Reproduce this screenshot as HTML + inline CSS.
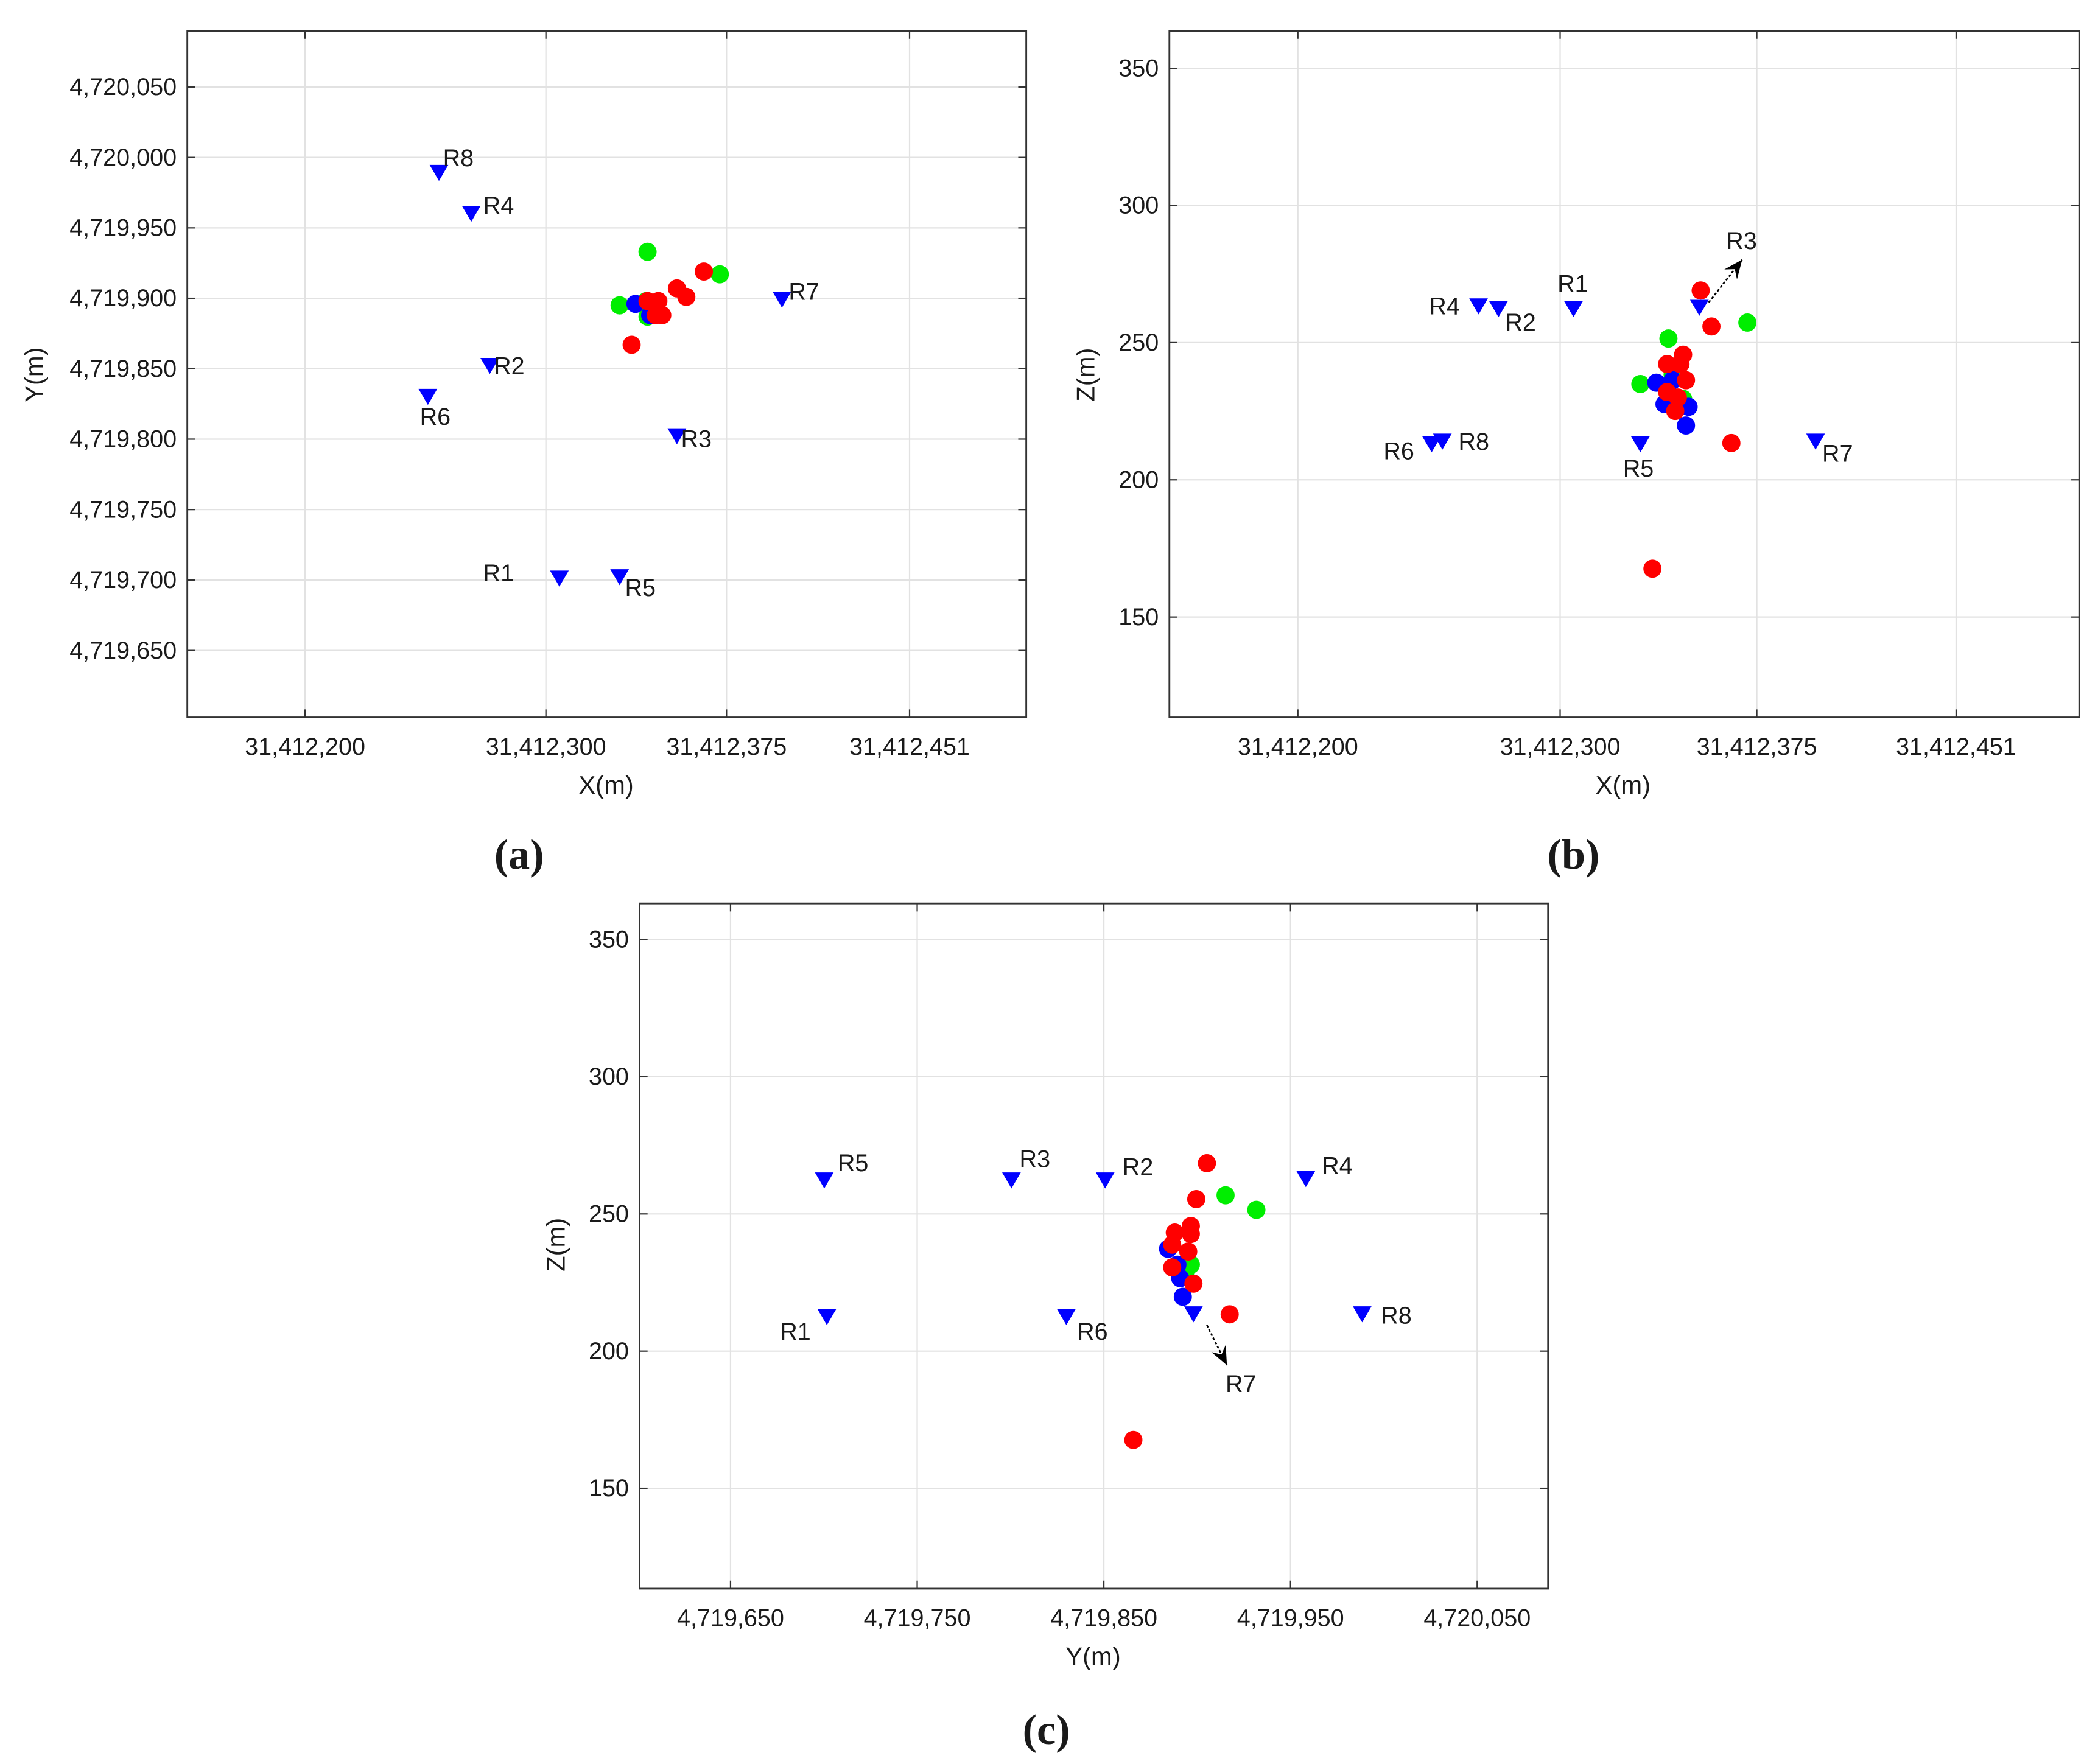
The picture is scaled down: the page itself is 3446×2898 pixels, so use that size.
<!DOCTYPE html>
<html><head><meta charset="utf-8"><style>
html,body{margin:0;padding:0;background:#fff;}
svg{display:block;}
text{font-family:"Liberation Sans",sans-serif;fill:#1a1a1a;}
text.serif{font-family:"Liberation Serif",serif;}
</style></head><body>
<svg id="fig" xmlns="http://www.w3.org/2000/svg" width="3446" height="2898" viewBox="0 0 1568 1318" preserveAspectRatio="none"></svg>
<script>
// ---------- Panel (a): X vs Y (offsets: X+31,412,000 ; Y+4,719,000) ----------
const aXTicks=[200,300,375,451];
const aYTicks=[650,700,750,800,850,900,950,1000,1050];
const aRecLabels=['R8','R4','R7','R2','R6','R3','R1','R5'];
const aRecX=[255.6,269,398,276.7,251,354.4,305.6,330.6];
const aRecY=[989,960,899,852,830,802,701,702];
const aRedX=[365.6,354.4,358.3,335.6,342.2,346.7,345.6,348.3];
const aRedY=[919,907,901,867,898,898,888,888];
const aGreenX=[342.2,330.6,372.2,341.7,345.6,342.2];
const aGreenY=[933,895,917,898,891,887];
const aBlueX=[337.2,343.3];
const aBlueY=[896,888];
// ---------- Panel (b): X vs Z ----------
const bXTicks=[200,300,375,451];
const bZTicks=[150,200,250,300,350];
const bRecLabels=['R4','R2','R1','R3','R6','R8','R5','R7'];
const bRecX=[268.9,276.5,305.1,353.1,251,255.1,330.6,397.4];
const bRecZ=[263.2,262.2,262.2,262.7,212.9,213.9,212.9,213.9];
const bRedX=[353.6,357.7,335.2,365.3,346.9,340.8,345.9,348,344.9,343.9,340.8];
const bRedZ=[269,255.9,167.6,213.4,245.6,242.2,242.2,236.3,230,225.1,232];
const bGreenX=[341.3,330.6,371.4,341.8,346.9,342.9];
const bGreenZ=[251.5,234.9,257.3,228.5,229.5,238.3];
const bBlueX=[336.7,342.9,339.8,349,348,343.9,340.8];
const bBlueZ=[235.4,236.3,227.6,226.6,219.8,229.5,233.4];
// ---------- Panel (c): Y vs Z ----------
const cYTicks=[650,750,850,950,1050];
const cZTicks=[150,200,250,300,350];
const cRecLabels=['R5','R3','R2','R4','R1','R6','R7','R8'];
const cRecY=[700.2,800.5,850.7,958.2,701.6,829.9,898,988.4];
const cRecZ=[262.2,262.2,262.2,262.7,212.4,212.4,213.4,213.4];
const cRedY=[905.2,899.5,896.6,896.6,888,886.6,886.6,895.2,898,917.4,865.8];
const cRedZ=[268.5,255.4,245.6,242.7,243.2,238.8,230.5,236.3,224.6,213.4,167.6];
const cGreenY=[915.2,931.7,895.2,893.7,896.6];
const cGreenZ=[256.8,251.5,232.9,229,231.5];
const cBlueY=[884.4,890.9,892.3,889.4];
const cBlueZ=[237.3,226.6,219.8,231.5];

const NS='http://www.w3.org/2000/svg';
const svg=document.getElementById('fig');
function mk(tag,attrs,parent,txt){const e=document.createElementNS(NS,tag);for(const k in attrs)e.setAttribute(k,attrs[k]);if(txt!==undefined)e.textContent=txt;(parent||svg).appendChild(e);return e;}
function fmt(off,v){return (off+v).toLocaleString('en-US');}

function panel(cfg){
  const g=mk('g',{});
  
  
  const sx=v=>cfg.hx0+(v-cfg.hv0)*cfg.hk;
  const sy=v=>cfg.vy0-(v-cfg.vv0)*cfg.vk;
  const L=cfg.box[0],T=cfg.box[1],R=cfg.box[2],B=cfg.box[3];
  mk('rect',{x:L,y:T,width:R-L,height:B-T,fill:'#fff'},g);
  cfg.hTicks.forEach(t=>{const x=sx(t);
    const gl=mk('line',{x1:x,x2:x,y1:T,y2:B,stroke:'#e2e2e2','stroke-width':1},g);
    
    
    mk('line',{x1:x,x2:x,y1:T,y2:T+6,stroke:'#333','stroke-width':1},g);
    mk('line',{x1:x,x2:x,y1:B,y2:B-6,stroke:'#333','stroke-width':1},g);
    const tl=mk('text',{x:x,y:B+28,'text-anchor':'middle','font-size':18},g,fmt(cfg.hOff,t));
    
    
  });
  cfg.vTicks.forEach(t=>{const y=sy(t);
    const gl=mk('line',{x1:L,x2:R,y1:y,y2:y,stroke:'#e2e2e2','stroke-width':1},g);
    
    
    mk('line',{x1:L,x2:L+6,y1:y,y2:y,stroke:'#333','stroke-width':1},g);
    mk('line',{x1:R,x2:R-6,y1:y,y2:y,stroke:'#333','stroke-width':1},g);
    const tl=mk('text',{x:L-8,y:y+6,'text-anchor':'end','font-size':18},g,fmt(cfg.vOff,t));
    
    
  });
  const fr=mk('rect',{x:L,y:T,width:R-L,height:B-T,fill:'none',stroke:'#333','stroke-width':1.3},g);
  
  
  const xl=mk('text',{x:cfg.xLab[0],y:cfg.xLab[1],'text-anchor':'middle','font-size':19},g,cfg.xLab[2]);
  
  
  const yl=mk('text',{x:0,y:0,'text-anchor':'middle','font-size':19,transform:`translate(${cfg.yLab[0]},${cfg.yLab[1]}) rotate(-90)`},g,cfg.yLab[2]);
  
  
  const dots=(hs,vs,col,nm)=>hs.forEach((h,i)=>{const c=mk('circle',{cx:sx(h),cy:sy(vs[i]),r:6.8,fill:col},g);
    
    });
  dots(cfg.green[0],cfg.green[1],'#00ee00','green-point');
  dots(cfg.blue[0],cfg.blue[1],'#0000ff','blue-point');
  dots(cfg.red[0],cfg.red[1],'#ff0000','red-point');
  cfg.recH.forEach((h,i)=>{const x=sx(h),y=sy(cfg.recV[i]);
    const p=mk('polygon',{points:`${x-7},${y-6} ${x+7},${y-6} ${x},${y+6}`,fill:'#0000ff'},g);
    
    
    const o=cfg.labOff[i];
    const t=mk('text',{x:x+o[0],y:y+o[1],'font-size':18,'text-anchor':o[2]||'start'},g,cfg.recLab[i]);
    
    
    if(o[3]){const a=o[3];
      const ln=mk('line',{x1:x+a[0],y1:y+a[1],x2:x+a[2],y2:y+a[3],stroke:'#000','stroke-width':1.2,'stroke-dasharray':'2,1.5'},g);
      
      
      const dx=a[2]-a[0],dy=a[3]-a[1],len=Math.hypot(dx,dy),ux=dx/len,uy=dy/len;
      const tx=x+a[2],ty=y+a[3],bx=tx-ux*14,by=ty-uy*14;
      mk('polygon',{points:`${tx},${ty} ${bx-uy*6},${by+ux*6} ${tx-ux*9},${ty-uy*9} ${bx+uy*6},${by-ux*6}`,fill:'#000'},g);
    }
  });
  const pl=mk('text',{x:cfg.pLab[0],y:cfg.pLab[1],'text-anchor':'middle','font-size':32,'font-weight':'bold','class':'serif'},g,cfg.pLab[2]);
  
  
}

panel({name:'panel-a-xy',box:[140,23,767,536],hx0:228,hv0:200,hk:1.8,vy0:65,vv0:1050,vk:1.0525,
  hTicks:aXTicks,vTicks:aYTicks,hOff:31412000,vOff:4719000,
  xLab:[453,593,'X(m)'],yLab:[32,280,'Y(m)'],pLab:[388,649,'(a)'],
  red:[aRedX,aRedY],green:[aGreenX,aGreenY],blue:[aBlueX,aBlueY],
  recH:aRecX,recV:aRecY,recLab:aRecLabels,
  labOff:[[3,-5],[9,0],[5,0],[3,6],[-6,21],[3,8],[-57,2],[4,14]]});

panel({name:'panel-b-xz',box:[874,23,1554,536],hx0:970,hv0:200,hk:1.96,vy0:51,vv0:350,vk:2.05,
  hTicks:bXTicks,vTicks:bZTicks,hOff:31412000,vOff:0,
  xLab:[1213,593,'X(m)'],yLab:[818,280,'Z(m)'],pLab:[1176,649,'(b)'],
  red:[bRedX,bRedZ],green:[bGreenX,bGreenZ],blue:[bBlueX,bBlueZ],
  recH:bRecX,recV:bRecZ,recLab:bRecLabels,
  labOff:[[-37,6],[5,16],[-12,-13],[20,-44,'start',[7,-4,32,-36]],[-36,11],[12,6],[-13,24],[5,15]]});

panel({name:'panel-c-yz',box:[478,675,1157,1187],hx0:546,hv0:650,hk:1.395,vy0:702,vv0:350,vk:2.05,
  hTicks:cYTicks,vTicks:cZTicks,hOff:4719000,vOff:0,
  xLab:[817,1244,'Y(m)'],yLab:[422,930,'Z(m)'],pLab:[782,1303,'(c)'],
  red:[cRedY,cRedZ],green:[cGreenY,cGreenZ],blue:[cBlueY,cBlueZ],
  recH:cRecY,recV:cRecZ,recLab:cRecLabels,
  labOff:[[10,-7],[6,-10],[13,-4],[12,-4],[-35,17],[8,17],[24,58,'start',[10,8,25,38]],[14,7]]});
</script>
</body></html>
